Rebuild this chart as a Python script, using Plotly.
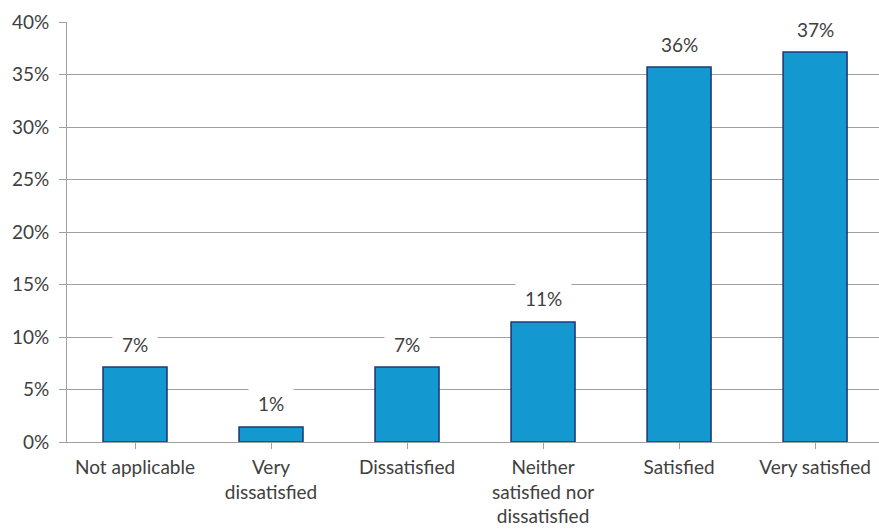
import plotly.graph_objects as go

# Survey responses (share of 70 respondents)
categories = [
    "Not applicable",
    "Very<br>dissatisfied",
    "Dissatisfied",
    "Neither<br>satisfied nor<br>dissatisfied",
    "Satisfied",
    "Very satisfied",
]
shares = [0.0714, 0.0143, 0.0714, 0.1143, 0.3571, 0.3714]
y_ticks = [0, 0.05, 0.10, 0.15, 0.20, 0.25, 0.30, 0.35, 0.40]

FONT = "Lato"
TEXT = "#404040"
GRID = "#a0a0a0"

fig = go.Figure(
    go.Bar(
        x=list(range(len(categories))),
        y=shares,
        marker=dict(color="#1399cf", line=dict(color="#1f3a7a", width=1.6)),
        width=0.47,
        hoverinfo="skip",
    )
)

# Value labels on a white box so the gridlines break behind them
for i, v in enumerate(shares):
    fig.add_annotation(
        x=i, y=v, text=f"{v * 100:.0f}%", showarrow=False,
        yanchor="middle", yshift=23,
        font=dict(family=FONT, size=19, color=TEXT),
        bgcolor="white", borderpad=9,
    )

fig.update_layout(
    width=879, height=530,
    margin=dict(l=67, r=0, t=22, b=88),
    plot_bgcolor="white", paper_bgcolor="white",
    showlegend=False,
    font=dict(family=FONT, size=19, color=TEXT),
    xaxis=dict(
        range=[-0.5, 5.47],
        tickmode="array",
        tickvals=list(range(len(categories))),
        ticktext=categories,
        showgrid=False,
        showline=True, linecolor=GRID, linewidth=1,
        ticks="outside", tickson="boundaries", ticklen=6, tickcolor=GRID,
        ticklabelstandoff=2,
        zeroline=False,
    ),
    yaxis=dict(
        range=[0, 0.40],
        tickmode="array",
        tickvals=y_ticks,
        ticktext=[f"{t * 100:.0f}%" for t in y_ticks],
        showgrid=True, gridcolor=GRID, gridwidth=1,
        showline=True, linecolor=GRID, linewidth=1,
        ticks="outside", ticklen=7, tickcolor=GRID,
        ticklabelstandoff=6,
        zeroline=False,
    ),
)

fig.write_html("out.html")
